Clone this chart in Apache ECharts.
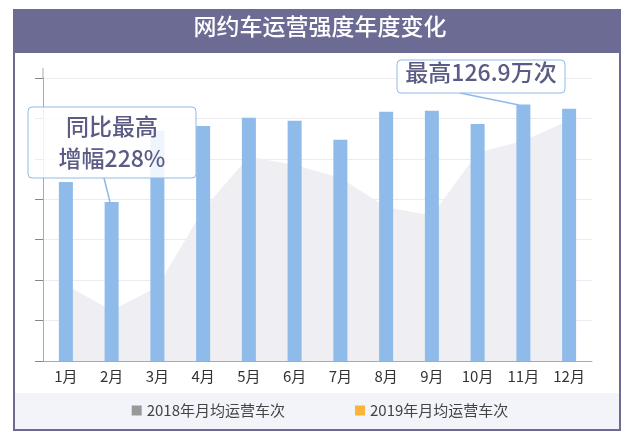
<!DOCTYPE html>
<html>
<head>
<meta charset="utf-8">
<script src="https://cdn.jsdelivr.net/npm/echarts@6/dist/echarts.min.js"></script>
<style>
html,body{margin:0;padding:0;background:#fff;}
#main{width:640px;height:432px;}
</style>
</head>
<body>
<div id="main"></div>
<script>
var months = ['1月','2月','3月','4月','5月','6月','7月','8月','9月','10月','11月','12月'];
var data2018 = [37.6, 25, 36.6, 74.8, 101, 97, 90.6, 76, 72, 103, 109, 119];
var data2019 = [88.6, 78.7, 113.9, 116.3, 120.3, 118.8, 109.4, 123.3, 123.8, 117.3, 126.9, 124.8];

var myChart = echarts.init(document.getElementById('main'));
var font = '"Noto Sans CJK SC", "Noto Sans", sans-serif';
var option = {
    textStyle: {fontFamily: font},
    graphic: [
        {type: 'rect', z: -10, shape: {x: 14, y: 10, width: 606, height: 420}, style: {fill: '#fff', stroke: '#6b6b93', lineWidth: 2}},
        {type: 'rect', z: -9, shape: {x: 14, y: 10, width: 606, height: 43}, style: {fill: '#6b6b93'}},
        {type: 'rect', z: -9, shape: {x: 15, y: 393, width: 604, height: 36}, style: {fill: '#f3f4f9'}},
        {type: 'line', z: -8, shape: {x1: 43, y1: 68, x2: 43, y2: 78}, style: {stroke: '#aaa', lineWidth: 1}},
        {type: 'text', left: 'center', top: 15, style: {text: '网约车运营强度年度变化', fill: '#fff', font: '500 23px ' + font}},
        {type: 'line', z: 50, shape: {x1: 104, y1: 178, x2: 110, y2: 202}, style: {stroke: '#8ebbe9', lineWidth: 1.5}},
        {type: 'rect', z: 51, shape: {x: 28, y: 107, width: 168, height: 71, r: 4}, style: {fill: 'rgba(255,255,255,0.85)', stroke: '#8ebbe9', lineWidth: 1}},
        {type: 'text', z: 52, x: 112, y: 110, style: {text: '同比最高\n增幅228%', fill: '#5b5b85', font: '500 23px ' + font, lineHeight: 32, align: 'center'}},
        {type: 'line', z: 50, shape: {x1: 460, y1: 93, x2: 519, y2: 105}, style: {stroke: '#8ebbe9', lineWidth: 1.5}},
        {type: 'rect', z: 51, shape: {x: 397, y: 60, width: 168, height: 33, r: 4}, style: {fill: 'rgba(255,255,255,0.85)', stroke: '#8ebbe9', lineWidth: 1}},
        {type: 'text', z: 52, x: 481, y: 61, style: {text: '最高126.9万次', fill: '#5b5b85', font: '500 23px ' + font, align: 'center'}}
    ],
    legend: {
        bottom: 9,
        itemGap: 70,
        itemWidth: 10,
        itemHeight: 10,
        textStyle: {fontSize: 15, color: '#444', fontFamily: font},
        data: [
            {name: '2018年月均运营车次', icon: 'rect', itemStyle: {color: '#999'}},
            {name: '2019年月均运营车次', icon: 'rect', itemStyle: {color: '#fbb437'}}
        ]
    },
    grid: {left: 43, right: 48, top: 78, bottom: 71},
    xAxis: {
        type: 'category',
        data: months,
        axisLine: {lineStyle: {color: '#aaa'}},
        axisTick: {show: false},
        axisLabel: {color: '#333', fontSize: 15}
    },
    yAxis: {
        type: 'value',
        min: 0, max: 140, interval: 20,
        axisLine: {show: true, lineStyle: {color: '#aaa'}},
        axisTick: {show: true, length: 8, lineStyle: {color: '#888'}},
        axisLabel: {show: false},
        splitLine: {lineStyle: {color: '#ebebf0'}}
    },
    series: [
        {
            name: '2018年月均运营车次',
            type: 'line',
            z: 1,
            data: data2018,
            symbol: 'none',
            lineStyle: {width: 0},
            itemStyle: {color: '#eeeef3'},
            areaStyle: {color: '#eeeef3', opacity: 1}
        },
        {
            name: '2019年月均运营车次',
            type: 'bar',
            z: 5,
            data: data2019,
            barWidth: 14,
            itemStyle: {color: '#8ebbe9'}
        }
    ]
};
myChart.setOption(option);
</script>
</body>
</html>
